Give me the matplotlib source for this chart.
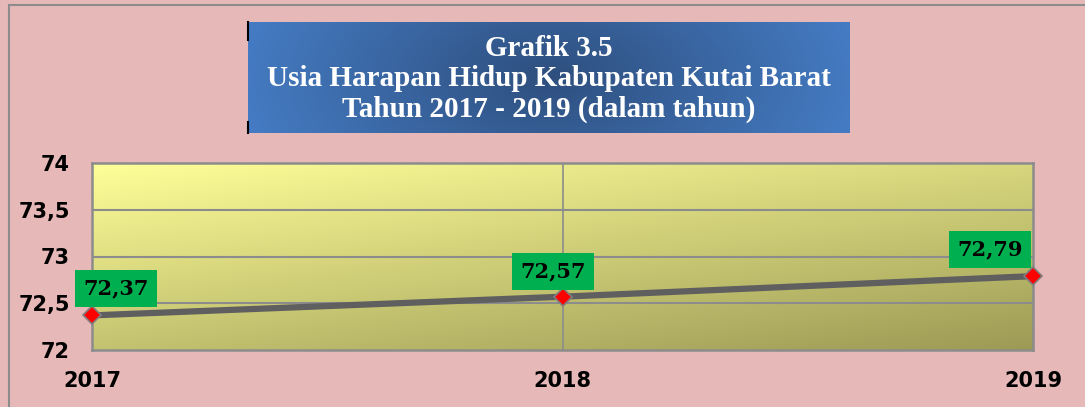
import matplotlib.pyplot as plt
import numpy as np
from matplotlib.patches import Rectangle

# data
years = ["2017", "2018", "2019"]
values = [72.37, 72.57, 72.79]
value_labels = ["72,37", "72,57", "72,79"]
y_ticks = [72, 72.5, 73, 73.5, 74]
y_tick_labels = ["72", "72,5", "73", "73,5", "74"]

W, H = 1085, 407
fig = plt.figure(figsize=(W / 100, H / 100), dpi=100)
fig.patch.set_facecolor("#E6B8B7")

# outer border (left and top)
fig.add_artist(Rectangle((9 / W, -0.1), 1.2, 1 - 5 / H + 0.1, transform=fig.transFigure,
                         fill=False, edgecolor="#8C8C8C", linewidth=1.5))

# title box with blue gradient
tx0, tx1, ty0, ty1 = 248, 850, 22, 133
tax = fig.add_axes([tx0 / W, 1 - ty1 / H, (tx1 - tx0) / W, (ty1 - ty0) / H])
xg = np.linspace(-1, 1, 300)
yg = np.linspace(-1, 1, 60)
XX, YY = np.meshgrid(xg, yg)
d = np.clip(np.sqrt(XX ** 2 * 0.9 + YY ** 2 * 0.1), 0, 1)
c_mid = np.array([0x2E, 0x4F, 0x7E]) / 255
c_edge = np.array([0x45, 0x7C, 0xC4]) / 255
img = c_mid[None, None, :] * (1 - d[..., None]) + c_edge[None, None, :] * d[..., None]
tax.imshow(img, extent=[0, 1, 0, 1], aspect="auto")
tax.set_xlim(0, 1)
tax.set_ylim(0, 1)
tax.axis("off")
tax.text(0.5, 0.49, "Grafik 3.5\nUsia Harapan Hidup Kabupaten Kutai Barat\nTahun 2017 - 2019 (dalam tahun)",
         ha="center", va="center", color="white", fontsize=21, fontweight="bold",
         family="Liberation Serif", linespacing=1.16)
fig.add_artist(plt.Line2D([tx0 / W, tx0 / W], [1 - 40 / H, 1 - ty0 / H], color="black", lw=1.5))
fig.add_artist(plt.Line2D([tx0 / W, tx0 / W], [1 - ty1 / H, 1 - 122 / H], color="black", lw=1.5))

# main plot
ax0, ax1, ay0, ay1 = 92, 1033, 163, 350
ax = fig.add_axes([ax0 / W, 1 - ay1 / H, (ax1 - ax0) / W, (ay1 - ay0) / H])
x = np.arange(len(years))
ax.set_xlim(0, len(years) - 1)
ax.set_ylim(72, 74)

gx = np.linspace(0, 1, 300)
gy = np.linspace(0, 1, 100)
GX, GY = np.meshgrid(gx, gy)
t = np.clip(0.4 * GX + 0.6 * GY, 0, 1)
c_top = np.array([0xFF, 0xFF, 0x99]) / 255
c_bot = np.array([0x9C, 0x9A, 0x55]) / 255
bg = c_top[None, None, :] * (1 - t[..., None]) + c_bot[None, None, :] * t[..., None]
ax.imshow(bg, extent=[0, len(years) - 1, 72, 74], aspect="auto", origin="upper", zorder=0)

for yv in y_ticks[1:-1]:
    ax.axhline(yv, color="#8C8C8C", lw=1.5, zorder=1)
ax.axvline(1, color="#8C8C8C", lw=1.2, zorder=1)
for s in ax.spines.values():
    s.set_color("#8C8C8C")
    s.set_linewidth(1.8)

ax.plot(x, values, color="#5F5F5F", lw=4.5, zorder=3, solid_capstyle="butt")
ax.plot(x, values, linestyle="none", marker="D", markersize=9, markerfacecolor="#FF0000",
        markeredgecolor="#7F7F7F", markeredgewidth=1.2, zorder=4, clip_on=False)

offsets = [(17, 19.5), (-7, 18), (-31, 19)]
for xi, v, lab, (dx, dy) in zip(x, values, value_labels, offsets):
    ax.annotate(lab, (xi, v), xytext=(dx, dy), textcoords="offset points", ha="center", va="center",
                fontsize=15, fontweight="heavy", family="DejaVu Serif", color="black",
                bbox=dict(boxstyle="square,pad=0.4", facecolor="#00B050", edgecolor="none"),
                zorder=5, annotation_clip=False)

ax.set_xticks(x)
ax.set_xticklabels(years)
ax.set_yticks(y_ticks)
ax.set_yticklabels(y_tick_labels)
ax.tick_params(length=0, labelsize=15)
for lbl in ax.get_xticklabels() + ax.get_yticklabels():
    lbl.set_fontweight("bold")
    lbl.set_family("DejaVu Sans")
ax.tick_params(axis="x", pad=15)
ax.tick_params(axis="y", pad=16)

fig.savefig("out.png", dpi=100, facecolor=fig.get_facecolor())
